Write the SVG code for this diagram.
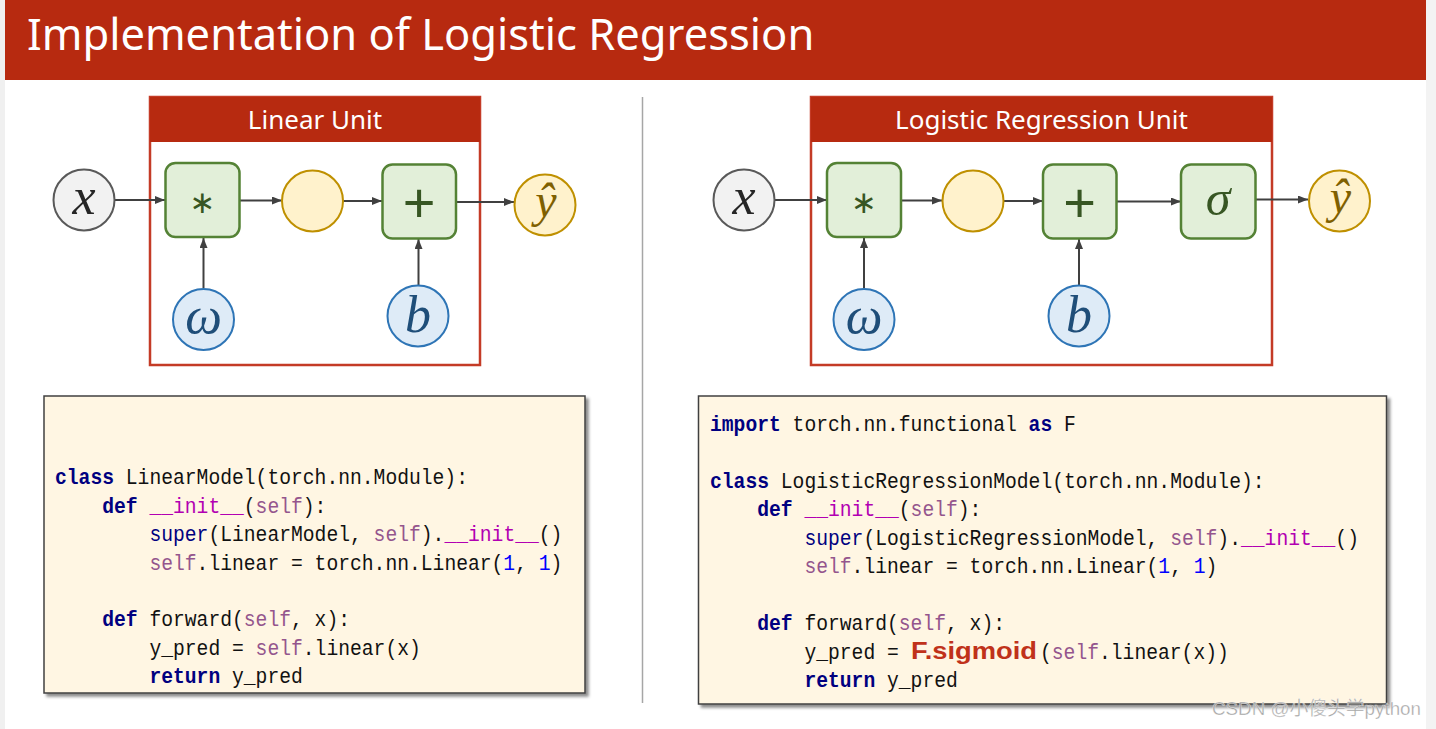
<svg xmlns="http://www.w3.org/2000/svg" width="1436" height="729" viewBox="0 0 1436 729">
<style>
.hdr{fill:#b72a10}
.ubox{fill:#ffffff;stroke:#c43b26;stroke-width:2.5}
.uhead{fill:#b72a10}
.utitle{font-family:"Noto Sans","Open Sans",sans-serif;font-size:26px;fill:#ffffff;text-anchor:middle}
.gray{fill:#f2f2f2;stroke:#595959;stroke-width:2}
.yel{fill:#fff2cc;stroke:#bf9000;stroke-width:2}
.blu{fill:#deebf7;stroke:#2e75b6;stroke-width:2}
.grn{fill:#e2efd9;stroke:#548235;stroke-width:2.5}
.sym{font-family:"Liberation Serif","DejaVu Serif",serif;font-style:italic;text-anchor:middle}
.sx{fill:#262626;font-size:52px}
.sb{fill:#1f4e79;font-size:52px}
.sy{fill:#7f6000;font-size:48px}
.sg{fill:#375623}
.conn line{stroke:#404040;stroke-width:2;fill:none;marker-end:url(#ah)}
.cbox{fill:#fff6e3;stroke:#404040;stroke-width:1.5;filter:url(#sh)}
.code{font-family:"Liberation Mono","DejaVu Sans Mono",monospace;font-size:19.67px;fill:#111111;white-space:pre}
.k{fill:#000080;font-weight:bold}
.su{fill:#000080}
.m{fill:#b200b2}
.s{fill:#94558d}
.n{fill:#0000ff}
</style>
<defs>
<marker id="ah" viewBox="0 0 10 8" refX="10" refY="4" markerWidth="10" markerHeight="8" markerUnits="userSpaceOnUse" orient="auto"><path d="M0,0 L10,4 L0,8 z" fill="#404040"/></marker>
<filter id="sh" x="-5%" y="-5%" width="112%" height="115%"><feDropShadow dx="3" dy="3" stdDeviation="1.5" flood-color="#000000" flood-opacity="0.45"/></filter>
</defs>
<rect x="0" y="0" width="1436" height="729" fill="#ffffff"/>
<rect x="0" y="0" width="5" height="729" fill="#f0f0f0"/>
<rect x="1426" y="0" width="10" height="729" fill="#f3f3f3"/>
<g id="header">
<rect class="hdr" x="5" y="0" width="1421" height="80"/>
<text x="27" y="50" font-family="Noto Sans,'Open Sans',sans-serif" font-size="43.5" fill="#ffffff">Implementation of Logistic Regression</text>
</g>
<line x1="642.5" y1="97" x2="642.5" y2="703" stroke="#a6a6a6" stroke-width="1.5"/>

<g id="linear-unit">
<rect class="ubox" x="150" y="97" width="330" height="268"/>
<rect class="uhead" x="150" y="97" width="330" height="45"/>
<text class="utitle" x="315" y="129">Linear Unit</text>
</g>
<g id="logistic-unit">
<rect class="ubox" x="811" y="97" width="461" height="268"/>
<rect class="uhead" x="811" y="97" width="461" height="45"/>
<text class="utitle" x="1041.5" y="129">Logistic Regression Unit</text>
</g>

<g class="conn" id="connectors">
<line x1="115" y1="200" x2="165" y2="200"/>
<line x1="240" y1="200.5" x2="282" y2="200.5"/>
<line x1="343" y1="201" x2="382" y2="201"/>
<line x1="456" y1="202" x2="514" y2="202"/>
<line x1="203.5" y1="288" x2="203.5" y2="238"/>
<line x1="418.5" y1="285" x2="418.5" y2="239"/>
<line x1="775" y1="200" x2="827" y2="200"/>
<line x1="901" y1="200.5" x2="942" y2="200.5"/>
<line x1="1004" y1="201" x2="1043" y2="201"/>
<line x1="1116" y1="201.5" x2="1181" y2="201.5"/>
<line x1="1256" y1="199.5" x2="1308" y2="199.5"/>
<line x1="864" y1="288" x2="864" y2="238"/>
<line x1="1079" y1="285" x2="1079" y2="239"/>
</g>

<g id="L-x"><circle class="gray" cx="84" cy="200" r="30.5"/><text class="sym sx" x="84" y="214">x</text></g>
<g id="L-mul"><rect class="grn" x="165.5" y="163" width="74" height="74" rx="10"/><text class="sg" x="202.5" y="213" font-family="DejaVu Sans,sans-serif" font-size="31" text-anchor="middle">∗</text></g>
<g id="L-mid"><circle class="yel" cx="312.5" cy="201" r="30.5"/></g>
<g id="L-add"><rect class="grn" x="382.5" y="164.5" width="73.5" height="74" rx="10"/><text class="sg" x="419" y="222" font-family="Liberation Sans,sans-serif" font-size="56" text-anchor="middle">+</text></g>
<g id="L-yhat"><circle class="yel" cx="545" cy="205" r="30.5"/><text class="sym sy" x="546" y="217">ŷ</text></g>
<g id="L-w"><circle class="blu" cx="203.5" cy="319.5" r="30.5"/><text class="sym sb" x="203.5" y="333">ω</text></g>
<g id="L-b"><circle class="blu" cx="418" cy="316" r="30.5"/><text class="sym sb" x="418" y="332">b</text></g>

<g id="R-x"><circle class="gray" cx="744" cy="200" r="30.5"/><text class="sym sx" x="744" y="214">x</text></g>
<g id="R-mul"><rect class="grn" x="827" y="163" width="74" height="74" rx="10"/><text class="sg" x="864" y="213" font-family="DejaVu Sans,sans-serif" font-size="31" text-anchor="middle">∗</text></g>
<g id="R-mid"><circle class="yel" cx="973" cy="201" r="30.5"/></g>
<g id="R-add"><rect class="grn" x="1043" y="164.5" width="73.5" height="74" rx="10"/><text class="sg" x="1079.5" y="222" font-family="Liberation Sans,sans-serif" font-size="56" text-anchor="middle">+</text></g>
<g id="R-sigma"><rect class="grn" x="1181" y="164.5" width="74.5" height="74" rx="10"/><text class="sym sg" x="1218" y="215" font-size="50">σ</text></g>
<g id="R-yhat"><circle class="yel" cx="1339.5" cy="201" r="30.5"/><text class="sym sy" x="1340.5" y="213">ŷ</text></g>
<g id="R-w"><circle class="blu" cx="864" cy="319.5" r="30.5"/><text class="sym sb" x="864" y="333">ω</text></g>
<g id="R-b"><circle class="blu" cx="1079" cy="316" r="30.5"/><text class="sym sb" x="1079" y="332">b</text></g>

<g id="code-left">
<rect class="cbox" x="44" y="396" width="541" height="297"/>
<text class="code" transform="translate(55,484.3) scale(1,1.12)"><tspan class="k">class</tspan> LinearModel(torch.nn.Module):</text>
<text class="code" transform="translate(102.2,512.7) scale(1,1.12)"><tspan class="k">def</tspan> <tspan class="m">__init__</tspan>(<tspan class="s">self</tspan>):</text>
<text class="code" transform="translate(149.4,541.1) scale(1,1.12)"><tspan class="su">super</tspan>(LinearModel, <tspan class="s">self</tspan>).<tspan class="m">__init__</tspan>()</text>
<text class="code" transform="translate(149.4,569.5) scale(1,1.12)"><tspan class="s">self</tspan>.linear = torch.nn.Linear(<tspan class="n">1</tspan>, <tspan class="n">1</tspan>)</text>
<text class="code" transform="translate(102.2,626.3) scale(1,1.12)"><tspan class="k">def</tspan> forward(<tspan class="s">self</tspan>, x):</text>
<text class="code" transform="translate(149.4,654.7) scale(1,1.12)">y_pred = <tspan class="s">self</tspan>.linear(x)</text>
<text class="code" transform="translate(149.4,683.1) scale(1,1.12)"><tspan class="k">return</tspan> y_pred</text>
</g>

<g id="code-right">
<rect class="cbox" x="698.5" y="396" width="688" height="308"/>
<text class="code" transform="translate(710,430.5) scale(1,1.12)"><tspan class="k">import</tspan> torch.nn.functional <tspan class="k">as</tspan> F</text>
<text class="code" transform="translate(710,487.5) scale(1,1.12)"><tspan class="k">class</tspan> LogisticRegressionModel(torch.nn.Module):</text>
<text class="code" transform="translate(757.2,516) scale(1,1.12)"><tspan class="k">def</tspan> <tspan class="m">__init__</tspan>(<tspan class="s">self</tspan>):</text>
<text class="code" transform="translate(804.4,544.5) scale(1,1.12)"><tspan class="su">super</tspan>(LogisticRegressionModel, <tspan class="s">self</tspan>).<tspan class="m">__init__</tspan>()</text>
<text class="code" transform="translate(804.4,573) scale(1,1.12)"><tspan class="s">self</tspan>.linear = torch.nn.Linear(<tspan class="n">1</tspan>, <tspan class="n">1</tspan>)</text>
<text class="code" transform="translate(757.2,630) scale(1,1.12)"><tspan class="k">def</tspan> forward(<tspan class="s">self</tspan>, x):</text>
<text class="code" transform="translate(804.4,658.5) scale(1,1.12)">y_pred = </text>
<text x="911" y="658.5" font-family="Liberation Sans,Arial,sans-serif" font-weight="bold" font-size="24" fill="#c0321a" textLength="126" lengthAdjust="spacingAndGlyphs">F.sigmoid</text>
<text class="code" transform="translate(1040,658.5) scale(1,1.12)">(<tspan class="s">self</tspan>.linear(x))</text>
<text class="code" transform="translate(804.4,687) scale(1,1.12)"><tspan class="k">return</tspan> y_pred</text>
</g>

<text id="watermark" x="1212" y="715" font-family="Liberation Sans,'Noto Sans CJK SC',sans-serif" font-size="18.8" fill="#9a9a9a" fill-opacity="0.9" stroke="#ffffff" stroke-width="0.6" stroke-opacity="0.6">CSDN @小傻头学python</text>
</svg>
